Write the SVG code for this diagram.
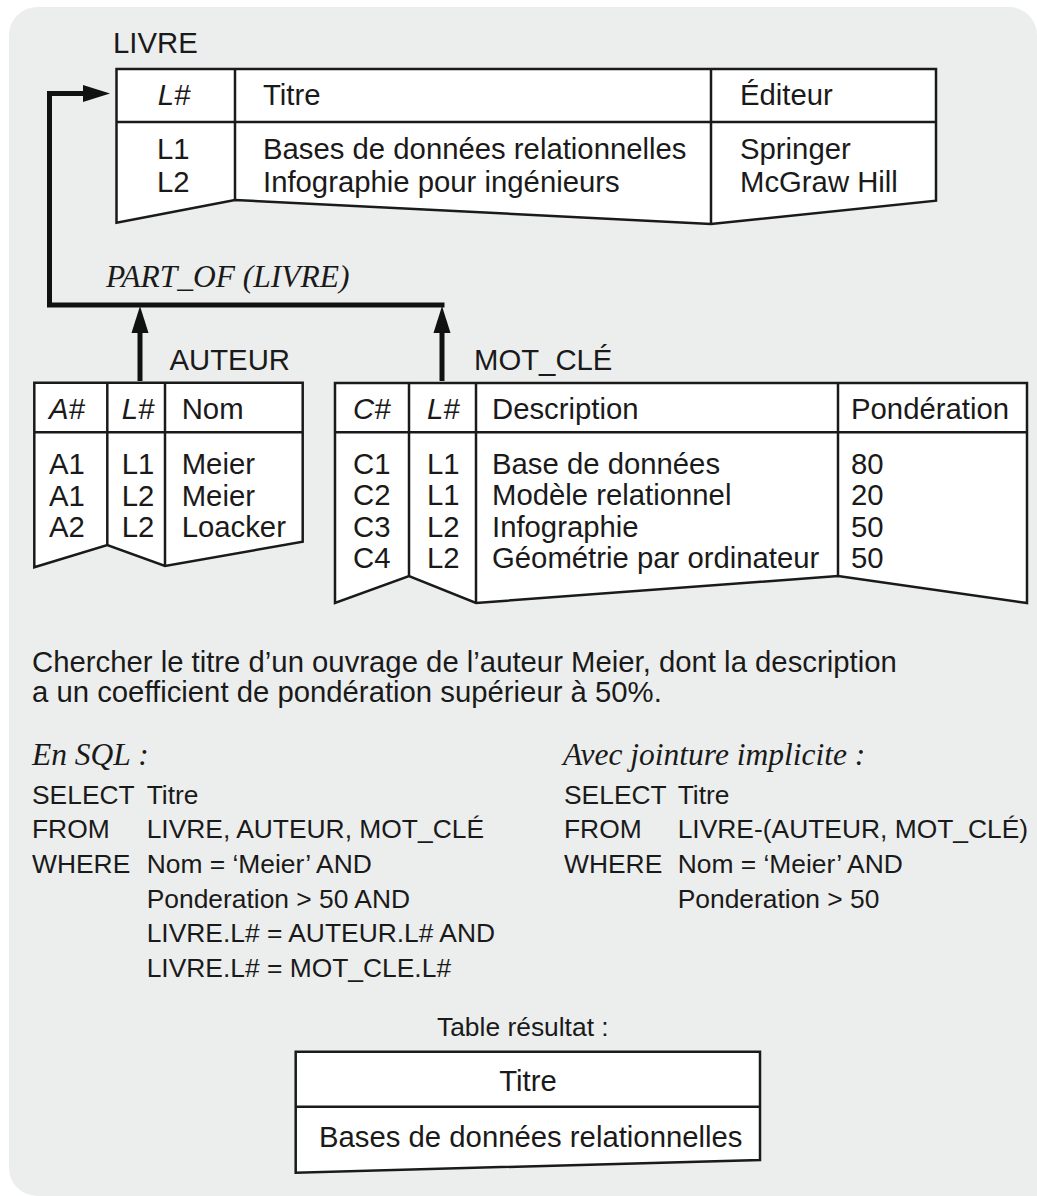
<svg xmlns="http://www.w3.org/2000/svg" width="1037" height="1196" viewBox="0 0 1037 1196">
<style>
.t{font-family:"Liberation Sans",Arial,sans-serif;font-size:29.3px;fill:#1a1a1a}
.i{font-style:italic}
.s{font-family:"Liberation Sans",Arial,sans-serif;font-size:26.4px;fill:#1a1a1a}
.ser{font-family:"Liberation Serif","Times New Roman",serif;font-style:italic;font-size:31.5px;fill:#1a1a1a}
.box{fill:#ffffff;stroke:#1a1a1a;stroke-width:2.5;stroke-linejoin:miter}
.div{stroke:#1a1a1a;stroke-width:2.5;fill:none}
.con{stroke:#111;stroke-width:5;fill:none;stroke-linejoin:miter}
.c{text-anchor:middle}
</style>
<defs>
<marker id="ah" markerUnits="userSpaceOnUse" markerWidth="28" markerHeight="18" viewBox="0 -9 28 18" refX="0" refY="0" orient="auto">
<path d="M0,-8.5 L27,0 L0,8.5 z" fill="#111"/>
</marker>
</defs>
<path d="M37,7 H1009 A28,28 0 0 1 1037,35 V1196 H37 A28,28 0 0 1 9,1168 V35 A28,28 0 0 1 37,7 Z" fill="#eceeed"/>

<g id="connectors">
<path class="con" d="M444.5,305 H49.5 V93.5 H83" marker-end="url(#ah)"/>
<path class="con" d="M140,381 V333" marker-end="url(#ah)"/>
<path class="con" d="M442,381 V333" marker-end="url(#ah)"/>
</g>

<g id="livre">
<text class="t" x="113" y="53">LIVRE</text>
<polygon class="box" points="116.5,69 936,69 936,200.7 711,224 235,200 116.5,222.7"/>
<line class="div" x1="116.5" y1="122" x2="936" y2="122"/>
<line class="div" x1="235" y1="69" x2="235" y2="200"/>
<line class="div" x1="711" y1="69" x2="711" y2="224"/>
<text class="t i c" x="174" y="105">L#</text>
<text class="t" x="263" y="105">Titre</text>
<text class="t" x="740" y="105">Éditeur</text>
<text class="t" x="157" y="159">L1</text>
<text class="t" x="157" y="191.5">L2</text>
<text class="t" x="263" y="159">Bases de données relationnelles</text>
<text class="t" x="263" y="191.5">Infographie pour ingénieurs</text>
<text class="t" x="740" y="159">Springer</text>
<text class="t" x="740" y="191.5">McGraw Hill</text>
</g>

<g id="part-of-label">
<text class="ser" x="106" y="287">PART_OF (LIVRE)</text>
</g>

<g id="auteur">
<text class="t" x="169.5" y="370">AUTEUR</text>
<polygon class="box" points="34.3,382.7 302.7,382.7 302.7,541.7 165,566 107.3,545 34.3,567.3"/>
<line class="div" x1="34.3" y1="432.3" x2="302.7" y2="432.3"/>
<line class="div" x1="107.3" y1="382.7" x2="107.3" y2="545"/>
<line class="div" x1="165" y1="382.7" x2="165" y2="566"/>
<text class="t i" x="49" y="419">A#</text>
<text class="t i" x="121.7" y="419">L#</text>
<text class="t" x="181.7" y="419">Nom</text>
<text class="t" x="49" y="474">A1</text>
<text class="t" x="49" y="505.5">A1</text>
<text class="t" x="49" y="537">A2</text>
<text class="t" x="121.7" y="474">L1</text>
<text class="t" x="121.7" y="505.5">L2</text>
<text class="t" x="121.7" y="537">L2</text>
<text class="t" x="181.7" y="474">Meier</text>
<text class="t" x="181.7" y="505.5">Meier</text>
<text class="t" x="181.7" y="537">Loacker</text>
</g>

<g id="mot-cle">
<text class="t" x="474" y="370">MOT_CLÉ</text>
<polygon class="box" points="335,383 1027,383 1027,603 838,576 476,603 409,576 335,603"/>
<line class="div" x1="335" y1="432.3" x2="1027" y2="432.3"/>
<line class="div" x1="409" y1="383" x2="409" y2="576"/>
<line class="div" x1="476" y1="383" x2="476" y2="603"/>
<line class="div" x1="838" y1="383" x2="838" y2="576"/>
<text class="t i" x="353" y="419">C#</text>
<text class="t i" x="427" y="419">L#</text>
<text class="t" x="492" y="419">Description</text>
<text class="t" x="851" y="419">Pondération</text>
<text class="t" x="353" y="473.5">C1</text>
<text class="t" x="353" y="505">C2</text>
<text class="t" x="353" y="536.5">C3</text>
<text class="t" x="353" y="568">C4</text>
<text class="t" x="427" y="473.5">L1</text>
<text class="t" x="427" y="505">L1</text>
<text class="t" x="427" y="536.5">L2</text>
<text class="t" x="427" y="568">L2</text>
<text class="t" x="492" y="473.5">Base de données</text>
<text class="t" x="492" y="505">Modèle relationnel</text>
<text class="t" x="492" y="536.5">Infographie</text>
<text class="t" x="492" y="568">Géométrie par ordinateur</text>
<text class="t" x="851" y="473.5">80</text>
<text class="t" x="851" y="505">20</text>
<text class="t" x="851" y="536.5">50</text>
<text class="t" x="851" y="568">50</text>
</g>

<g id="question">
<text class="t" x="32" y="671.5">Chercher le titre d’un ouvrage de l’auteur Meier, dont la description</text>
<text class="t" x="32" y="702">a un coefficient de pondération supérieur à 50%.</text>
</g>

<g id="sql-explicit">
<text class="ser" x="32" y="765">En SQL :</text>
<text class="s" x="32" y="803.5">SELECT</text>
<text class="s" x="146.7" y="803.5">Titre</text>
<text class="s" x="32" y="838.2">FROM</text>
<text class="s" x="146.7" y="838.2">LIVRE, AUTEUR, MOT_CLÉ</text>
<text class="s" x="32" y="872.9">WHERE</text>
<text class="s" x="146.7" y="872.9">Nom = ‘Meier’ AND</text>
<text class="s" x="146.7" y="907.6">Ponderation &gt; 50 AND</text>
<text class="s" x="146.7" y="942.3">LIVRE.L# = AUTEUR.L# AND</text>
<text class="s" x="146.7" y="977">LIVRE.L# = MOT_CLE.L#</text>
</g>

<g id="sql-implicit">
<text class="ser" x="563" y="765">Avec jointure implicite :</text>
<text class="s" x="564" y="803.5">SELECT</text>
<text class="s" x="677.7" y="803.5">Titre</text>
<text class="s" x="564" y="838.2">FROM</text>
<text class="s" x="677.7" y="838.2">LIVRE-(AUTEUR, MOT_CLÉ)</text>
<text class="s" x="564" y="872.9">WHERE</text>
<text class="s" x="677.7" y="872.9">Nom = ‘Meier’ AND</text>
<text class="s" x="677.7" y="907.6">Ponderation &gt; 50</text>
</g>

<g id="resultat">
<text class="s" x="437" y="1036">Table résultat :</text>
<polygon class="box" points="295.7,1051.7 760,1051.7 760,1160 295.7,1172.7"/>
<line class="div" x1="295.7" y1="1106.7" x2="760" y2="1106.7"/>
<text class="t c" x="528" y="1091">Titre</text>
<text class="t" x="319" y="1147">Bases de données relationnelles</text>
</g>
</svg>
